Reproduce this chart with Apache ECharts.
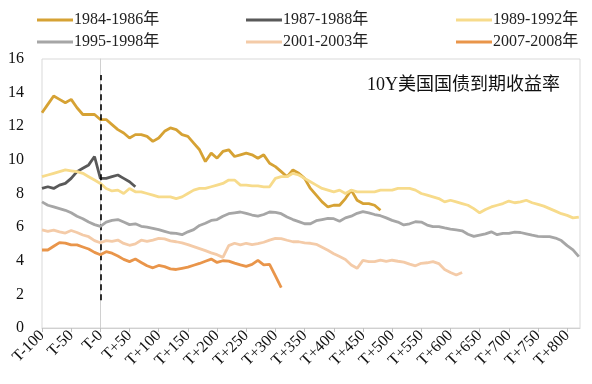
<!DOCTYPE html>
<html>
<head>
<meta charset="utf-8">
<script src="https://cdn.jsdelivr.net/npm/echarts@6/dist/echarts.min.js"></script>
<style>html,body{margin:0;padding:0;background:#fff;}#c{width:592px;height:384px;}</style>
</head>
<body>
<div id="c"></div>
<script>
// x offsets: each series starts at T-100, one value every 10 trading days
const seriesNames = ['1984-1986年','1987-1988年','1989-1992年','1995-1998年','2001-2003年','2007-2008年'];
const xStart = -100;
const xStep = 10;
const xTickValues = [-100,-50,0,50,100,150,200,250,300,350,400,450,500,550,600,650,700,750,800];
const xTickLabels = ['T-100','T-50','T-0','T+50','T+100','T+150','T+200','T+250','T+300','T+350','T+400','T+450','T+500','T+550','T+600','T+650','T+700','T+750','T+800'];
const yTicks = [0,2,4,6,8,10,12,14,16];
const refLine = {x: 0, from: 1.65, to: 15.05};

const y1984 = [12.8,13.3,13.8,13.6,13.4,13.6,13.1,12.7,12.7,12.7,12.4,12.4,12.1,11.8,11.6,11.3,11.5,11.5,11.4,11.1,
  11.3,11.7,11.9,11.8,11.5,11.4,11.0,10.6,9.9,10.4,10.1,10.5,10.6,10.2,10.3,10.4,10.3,10.1,10.3,9.8,
  9.6,9.3,9.0,9.4,9.2,8.9,8.3,7.9,7.5,7.2,7.3,7.3,7.7,8.2,7.6,7.4,7.4,7.3,7.0];
const y1987 = [8.3,8.4,8.3,8.5,8.6,8.9,9.3,9.5,9.7,10.2,8.9,8.9,9.0,9.1,8.9,8.7,8.4];
const y1989 = [9.0,9.1,9.2,9.3,9.4,9.35,9.3,9.2,9.0,8.8,8.6,8.3,8.15,8.2,8.0,8.3,8.1,8.1,8.0,7.9,
  7.8,7.8,7.8,7.7,7.8,8.0,8.2,8.3,8.3,8.4,8.5,8.6,8.8,8.8,8.5,8.5,8.45,8.45,8.4,8.4,
  8.9,9.0,9.0,9.2,9.1,8.9,8.7,8.5,8.3,8.2,8.1,8.2,8.0,8.2,8.1,8.1,8.1,8.1,8.2,8.2,
  8.2,8.3,8.3,8.3,8.2,8.0,7.9,7.8,7.7,7.5,7.6,7.5,7.4,7.3,7.1,6.85,7.05,7.2,7.3,7.4,
  7.55,7.45,7.5,7.6,7.45,7.35,7.25,7.1,6.95,6.8,6.7,6.55,6.6];
const y1995 = [7.5,7.3,7.2,7.1,7.0,6.85,6.65,6.5,6.3,6.15,6.05,6.3,6.4,6.45,6.3,6.15,6.2,6.05,6.0,5.93,
  5.85,5.75,5.65,5.63,5.55,5.72,5.85,6.1,6.23,6.4,6.45,6.65,6.8,6.85,6.9,6.82,6.72,6.65,6.75,6.9,
  6.88,6.8,6.6,6.45,6.33,6.2,6.2,6.38,6.45,6.52,6.5,6.35,6.55,6.65,6.82,6.92,6.85,6.75,6.68,6.55,
  6.4,6.3,6.13,6.2,6.32,6.3,6.12,6.03,6.03,5.95,5.88,5.83,5.78,5.58,5.45,5.53,5.6,5.72,5.55,5.63,
  5.63,5.7,5.68,5.6,5.52,5.45,5.43,5.43,5.35,5.2,4.9,4.65,4.25];
const y2001 = [5.83,5.75,5.82,5.72,5.65,5.8,5.68,5.53,5.43,5.2,5.07,5.2,5.15,5.23,5.03,4.92,5.0,5.22,5.15,5.23,
  5.33,5.3,5.18,5.13,5.06,4.96,4.84,4.72,4.6,4.47,4.36,4.2,4.9,5.04,4.94,5.04,4.96,5.02,5.1,5.23,
  5.33,5.32,5.22,5.13,5.13,5.06,5.04,4.98,4.8,4.62,4.42,4.25,4.08,3.75,3.55,4.02,3.95,3.95,4.04,3.96,
  4.03,3.97,3.92,3.8,3.7,3.85,3.88,3.95,3.83,3.48,3.3,3.15,3.3];
const y2007 = [4.64,4.64,4.86,5.08,5.05,4.94,4.94,4.82,4.7,4.5,4.36,4.54,4.45,4.28,4.08,3.95,4.1,3.9,3.7,3.58,
  3.72,3.65,3.52,3.48,3.55,3.62,3.73,3.84,3.97,4.1,3.9,4.0,3.98,3.86,3.75,3.67,3.78,4.02,3.75,3.78,
  3.1,2.4];

const seriesValues = [y1984, y1987, y1989, y1995, y2001, y2007];
const colors = ['#D6A234','#595959','#F7DB8B','#A6A6A6','#F4CBA8','#E9954A'];

const serif = "'Liberation Serif','Times New Roman','Noto Sans CJK SC',serif";

const series = seriesNames.map((name, i) => ({
  name: name,
  type: 'line',
  symbol: 'none',
  silent: true,
  data: seriesValues[i].map((v, j) => [xStart + j * xStep, v]),
  lineStyle: {color: colors[i], width: 2.8},
  itemStyle: {color: colors[i]},
  z: 2 + i
}));
series.push({
  name: 'ref',
  type: 'line',
  data: [],
  silent: true,
  markLine: {
    silent: true,
    symbol: 'none',
    label: {show: false},
    lineStyle: {color: '#000', type: [6, 4], width: 1.6},
    data: [[{coord: [refLine.x, refLine.from]}, {coord: [refLine.x, refLine.to]}]]
  }
});

const legendCols = [[0, 3], [1, 4], [2, 5]];
const legendLeft = [32, 241, 451];
const legends = legendCols.map((col, c) => ({
  orient: 'vertical',
  left: legendLeft[c],
  top: 7,
  itemGap: 6,
  itemWidth: 36,
  itemHeight: 3,
  icon: 'rect',
  selectedMode: false,
  data: col.map(i => seriesNames[i]),
  textStyle: {fontFamily: serif, fontSize: 16, color: '#222', padding: [0, 0, 0, -4]}
}));

const chart = echarts.init(document.getElementById('c'), null, {renderer: 'canvas'});
chart.setOption({
  animation: false,
  color: colors,
  legend: legends,
  grid: {left: 42, right: 12, top: 59, bottom: 56, show: true, borderColor: '#d9d9d9', borderWidth: 1, backgroundColor: 'transparent'},
  xAxis: {
    type: 'value',
    min: -100,
    max: 822,
    splitLine: {show: false},
    axisLine: {lineStyle: {color: '#d0d0d0'}},
    axisTick: {show: true, length: 4, lineStyle: {color: '#bfbfbf'}, customValues: xTickValues},
    axisLabel: {
      customValues: xTickValues,
      rotate: 45,
      margin: 5,
      fontFamily: serif,
      fontSize: 16,
      color: '#111',
      formatter: v => xTickLabels[xTickValues.indexOf(v)] || ''
    }
  },
  yAxis: {
    type: 'value',
    min: yTicks[0],
    max: yTicks[yTicks.length - 1],
    interval: 2,
    splitLine: {show: false},
    axisLine: {show: true, lineStyle: {color: '#d0d0d0'}},
    axisTick: {show: false},
    axisLabel: {fontFamily: serif, fontSize: 16, color: '#111', margin: 18}
  },
  graphic: [{
    type: 'text',
    left: 367,
    top: 76,
    style: {text: '10Y美国国债到期收益率', font: "18px 'Liberation Serif','Noto Sans CJK SC',serif", fill: '#111'}
  }],
  series: series
});
</script>
</body>
</html>
